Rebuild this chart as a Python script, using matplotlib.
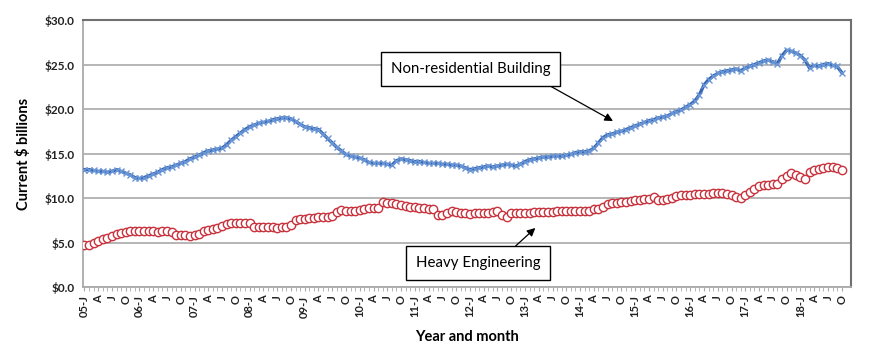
import matplotlib
matplotlib.use("Agg")
import matplotlib.pyplot as plt
import numpy as np

plt.rcParams['font.family'] = ['Lato', 'DejaVu Sans']

# monthly values, Jan 2005 .. Oct 2018 ($ billions)
years = list(range(2005, 2019))
month_abbr = ["J", "A", "J", "O"]

nonres = [
    13.2, 13.2, 13.1, 13.0, 13.0, 12.9, 13.0, 13.2, 13.0, 12.8, 12.6, 12.3,  # 2005
    12.2, 12.3, 12.5, 12.7, 12.9, 13.2, 13.4, 13.5, 13.7, 13.9, 14.1, 14.4,  # 2006
    14.6, 14.8, 15.1, 15.3, 15.4, 15.5, 15.6, 16.0, 16.5, 16.9, 17.3, 17.7,  # 2007
    18.0, 18.2, 18.4, 18.5, 18.6, 18.8, 18.9, 19.0, 19.0, 18.9, 18.6, 18.3,  # 2008
    18.0, 17.9, 17.8, 17.7, 17.2, 16.7, 16.2, 15.7, 15.3, 14.9, 14.7, 14.6,  # 2009
    14.5, 14.3, 14.0, 13.9, 13.9, 13.9, 13.8, 13.7, 14.2, 14.4, 14.3, 14.2,  # 2010
    14.1, 14.1, 14.0, 13.9, 13.9, 13.9, 13.8, 13.8, 13.7, 13.7, 13.6, 13.4,  # 2011
    13.2, 13.3, 13.4, 13.5, 13.6, 13.5, 13.6, 13.7, 13.8, 13.7, 13.6, 13.8,  # 2012
    14.1, 14.3, 14.4, 14.5, 14.6, 14.6, 14.7, 14.7, 14.7, 14.8, 14.9, 15.1,  # 2013
    15.2, 15.2, 15.3, 15.6, 16.2, 16.8, 17.1, 17.2, 17.4, 17.5, 17.7, 17.9,  # 2014
    18.1, 18.3, 18.5, 18.7, 18.8, 19.0, 19.1, 19.2, 19.5, 19.7, 19.9, 20.2,  # 2015
    20.5, 20.9, 21.6, 22.7, 23.3, 23.7, 24.0, 24.2, 24.3, 24.4, 24.5, 24.3,  # 2016
    24.6, 24.8, 25.0, 25.2, 25.4, 25.5, 25.3, 25.1, 26.0, 26.6, 26.5, 26.3,  # 2017
    26.0, 25.5, 24.6, 24.9, 24.8, 25.0, 25.1, 24.9, 24.8, 24.1,              # 2018
]

heavy = [
    4.7, 4.75, 5.0, 5.15, 5.4, 5.55, 5.75, 6.0, 6.1, 6.2, 6.3, 6.3,         # 2005
    6.3, 6.3, 6.3, 6.3, 6.2, 6.25, 6.25, 6.2, 5.8, 5.8, 5.8, 5.75,          # 2006
    5.85, 6.0, 6.3, 6.4, 6.5, 6.6, 6.9, 7.1, 7.2, 7.2, 7.2, 7.2,            # 2007
    7.15, 6.8, 6.75, 6.75, 6.7, 6.7, 6.65, 6.7, 6.8, 7.0, 7.5, 7.6,         # 2008
    7.7, 7.75, 7.8, 7.85, 7.85, 7.9, 8.0, 8.4, 8.7, 8.5, 8.5, 8.6,          # 2009
    8.7, 8.8, 8.9, 8.85, 8.9, 9.55, 9.5, 9.4, 9.3, 9.2, 9.1, 9.0,           # 2010
    9.0, 8.9, 8.85, 8.8, 8.75, 8.1, 8.15, 8.3, 8.5, 8.4, 8.3, 8.3,          # 2011
    8.25, 8.3, 8.3, 8.35, 8.35, 8.4, 8.5, 8.1, 7.85, 8.3, 8.35, 8.35,       # 2012
    8.35, 8.35, 8.4, 8.4, 8.4, 8.45, 8.45, 8.5, 8.5, 8.5, 8.55, 8.6,        # 2013
    8.5, 8.55, 8.6, 8.75, 8.8, 9.0, 9.3, 9.45, 9.5, 9.55, 9.6, 9.7,         # 2014
    9.75, 9.8, 9.85, 9.9, 10.1, 9.75, 9.75, 9.85, 10.05, 10.2, 10.3, 10.35, # 2015
    10.4, 10.45, 10.45, 10.5, 10.5, 10.55, 10.6, 10.6, 10.5, 10.3, 10.15, 10.0,  # 2016
    10.3, 10.7, 11.0, 11.3, 11.45, 11.5, 11.55, 11.6, 12.1, 12.5, 12.8, 12.6,    # 2017
    12.4, 12.1, 12.9, 13.1, 13.3, 13.4, 13.5, 13.5, 13.4, 13.1,                   # 2018
]

n = len(nonres)
x = np.arange(n)

fig = plt.figure(figsize=(8.7, 3.54), dpi=100)
ax = fig.add_axes([0.0954, 0.189, 0.8826, 0.7545])

blue = "#3766b2"
red = "#c8323c"

ax.plot(x, heavy, color=red, lw=0.8, marker="o", ms=6.0, mfc="white",
        mec=red, mew=1.0, zorder=3)
ax.plot(x, nonres, color=blue, lw=2.4, marker="x", ms=4.8, mec="#6a96d6",
        mew=1.0, zorder=4)

ax.set_ylim(0, 30)
ax.set_xlim(-0.3, 167)
ax.set_yticks(np.arange(0, 31, 5))
ax.set_yticklabels(["$%.1f" % v for v in np.arange(0, 31, 5)],
                   fontsize=8.5, fontweight="bold", color="#222222")
ax.grid(axis="y", color="#b0b0b0", lw=1.3)
ax.set_axisbelow(True)

ticks = []
labels = []
for i in range(0, n, 3):
    ticks.append(i)
    m = (i % 12) // 3
    if m == 0:
        labels.append("%02d-J" % (years[i // 12] % 100))
    else:
        labels.append(month_abbr[m])
ax.set_xticks(ticks)
ax.set_xticklabels(labels, rotation=90, fontsize=8, fontweight="bold",
                   color="#222222")
ax.set_xticks(x, minor=True)
ax.tick_params(axis="x", which="both", length=3, color="#aaaaaa", pad=3)
ax.tick_params(axis="y", length=0, pad=6)

for s in ["left", "bottom"]:
    ax.spines[s].set_color("#aaaaaa")
    ax.spines[s].set_linewidth(1.3)
for s in ["top", "right"]:
    ax.spines[s].set_color("#707070")
    ax.spines[s].set_linewidth(1.5)

ax.set_ylabel("Current $ billions", fontsize=10.5, fontweight="bold", labelpad=10)
ax.set_xlabel("Year and month", fontsize=10.5, fontweight="bold", labelpad=9)

box = dict(boxstyle="square,pad=0.65", fc="white", ec="black", lw=1.0)
ax.annotate("", xy=(115.7, 18.5), xytext=(100.4, 22.9),
            arrowprops=dict(arrowstyle="-|>", color="black", lw=0.9,
                            mutation_scale=12), zorder=6)
ax.text(84.1, 24.5, "Non-residential Building", fontsize=10.8, ha="center",
        va="center", bbox=box, zorder=7)
ax.annotate("", xy=(98.7, 6.85), xytext=(93.5, 4.4),
            arrowprops=dict(arrowstyle="-|>", color="black", lw=0.9,
                            mutation_scale=12), zorder=6)
ax.text(85.8, 2.7, "Heavy Engineering", fontsize=10.8, ha="center",
        va="center", bbox=box, zorder=7)

fig.savefig("out.png", dpi=100)
